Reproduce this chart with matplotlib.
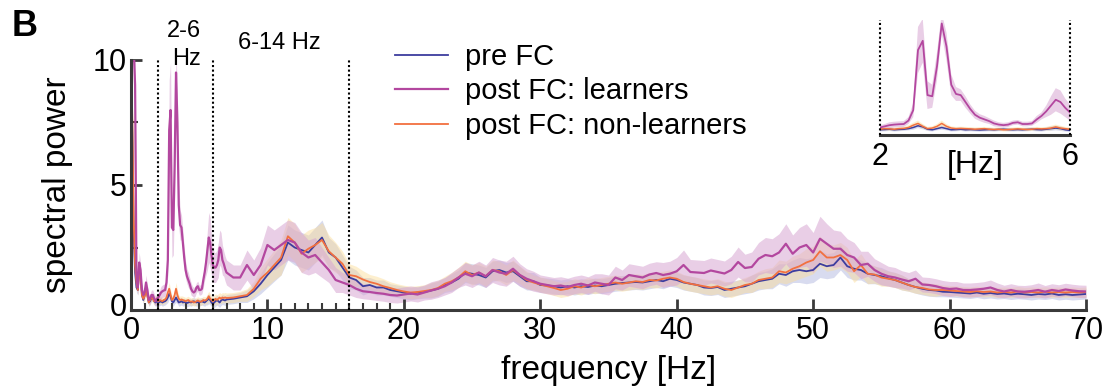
import numpy as np
import matplotlib
matplotlib.use("Agg")
import matplotlib.pyplot as plt
import matplotlib.transforms as mtransforms

plt.rcParams['font.family'] = ['Liberation Sans', 'DejaVu Sans']

# frequency bins: fine below 7 Hz, coarse above
freq_lo = np.round(np.arange(0, 7.05, 0.1), 1)
freq_hi = np.arange(7.5, 70.1, 0.5)
freq = np.concatenate([freq_lo, freq_hi])

# ---- post FC: learners
learners_lo = [
    12.0, 11.0, 10.5, 9.0, 1.4, 0.9, 1.9, 1.6, 0.8, 0.6,
    0.7, 1.1, 0.8, 0.4, 0.45, 0.6, 0.6, 0.45, 0.35, 0.45,
    0.5, 0.6, 0.7, 0.75, 0.78, 0.8, 1.1, 2.0, 7.2, 8.0,
    3.3, 3.2, 5.8, 9.5, 7.5, 4.2, 3.4, 3.3, 2.7, 2.1,
    1.6, 1.35, 1.2, 1.05, 0.85, 0.75, 0.7, 0.75, 0.9, 0.95,
    0.8, 0.8, 0.85, 1.2, 1.5, 1.9, 2.4, 2.9, 2.7, 2.2,
    1.8, 1.7, 1.7, 1.8, 2.0, 2.5, 2.4, 2.0, 1.85, 1.65,
    1.5]
learners_hi = [
    1.3, 1.3, 1.8, 1.4, 1.8, 2.6, 2.4, 2.6, 2.8, 2.7,
    2.3, 2.1, 2.2, 1.9, 1.6, 1.2, 1.1, 1.0, 0.85, 0.75,
    0.72, 0.68, 0.65, 0.6, 0.58, 0.62, 0.66, 0.62, 0.7, 0.78,
    0.85, 0.95, 1.1, 1.3, 1.45, 1.35, 1.5, 1.35, 1.6, 1.5,
    1.45, 1.65, 1.4, 1.25, 1.15, 1.05, 1.0, 0.95, 0.98, 0.92,
    1.0, 1.05, 0.98, 1.1, 1.05, 1.0, 1.3, 1.2, 1.4, 1.35,
    1.3, 1.42, 1.48, 1.4, 1.45, 1.55, 1.8, 1.52, 1.5, 1.48,
    1.58, 1.52, 1.46, 1.6, 1.92, 1.68, 1.72, 2.05, 2.2, 2.15,
    2.3, 2.65, 2.25, 2.5, 2.6, 2.3, 2.85, 2.65, 2.45, 2.45,
    2.2, 2.1, 1.8, 1.85, 1.6, 1.45, 1.35, 1.3, 1.22, 1.15,
    1.25, 1.02, 1.0, 0.95, 0.88, 0.84, 0.86, 0.8, 0.8, 0.82,
    0.85, 0.9, 0.8, 0.74, 0.8, 0.74, 0.73, 0.76, 0.8, 0.73,
    0.8, 0.76, 0.82, 0.78, 0.75, 0.74]
learners_sem_lo = [
    1.0, 1.0, 1.0, 1.0, 0.4, 0.3, 0.4, 0.3, 0.2, 0.2,
    0.2, 0.3, 0.2, 0.2, 0.2, 0.2, 0.2, 0.2, 0.2, 0.2,
    0.2, 0.2, 0.25, 0.25, 0.25, 0.25, 0.3, 0.6, 2.0, 1.9,
    1.2, 1.0, 1.2, 0.9, 1.2, 0.9, 0.6, 0.5, 0.5, 0.4,
    0.35, 0.3, 0.3, 0.25, 0.25, 0.2, 0.2, 0.2, 0.2, 0.2,
    0.2, 0.2, 0.2, 0.3, 0.3, 0.5, 0.8, 1.0, 1.0, 0.8,
    0.7, 0.6, 0.6, 0.6, 0.7, 0.7, 0.7, 0.6, 0.5, 0.5,
    0.5]
learners_sem_hi = [
    0.5, 0.5, 0.6, 0.6, 0.7, 0.8, 0.8, 0.8, 0.8, 0.8,
    0.8, 0.7, 0.7, 0.6, 0.5, 0.5, 0.4, 0.4, 0.35, 0.3,
    0.3, 0.3, 0.3, 0.3, 0.3, 0.3, 0.3, 0.3, 0.3, 0.35,
    0.35, 0.35, 0.4, 0.4, 0.45, 0.45, 0.45, 0.45, 0.5, 0.5,
    0.5, 0.5, 0.45, 0.4, 0.4, 0.35, 0.35, 0.35, 0.35, 0.35,
    0.35, 0.35, 0.35, 0.35, 0.4, 0.4, 0.45, 0.4, 0.45, 0.45,
    0.45, 0.45, 0.45, 0.5, 0.5, 0.55, 0.6, 0.5, 0.5, 0.5,
    0.5, 0.5, 0.5, 0.55, 0.6, 0.55, 0.6, 0.65, 0.7, 0.7,
    0.75, 0.8, 0.75, 0.8, 0.85, 0.8, 0.9, 0.8, 0.75, 0.7,
    0.65, 0.6, 0.55, 0.5, 0.45, 0.45, 0.4, 0.4, 0.35, 0.35,
    0.35, 0.3, 0.3, 0.3, 0.3, 0.3, 0.28, 0.28, 0.28, 0.28,
    0.28, 0.3, 0.28, 0.25, 0.25, 0.25, 0.25, 0.25, 0.28, 0.25,
    0.25, 0.25, 0.25, 0.25, 0.25, 0.25]

# ---- pre FC
pre_lo = [
    10.5, 7.0, 3.0, 1.5, 0.9, 0.8, 1.7, 1.4, 0.6, 0.4,
    0.6, 0.9, 0.6, 0.3, 0.35, 0.5, 0.5, 0.35, 0.3, 0.35,
    0.3, 0.32, 0.35, 0.3, 0.33, 0.35, 0.4, 0.5, 0.65, 0.55,
    0.35, 0.3, 0.4, 0.5, 0.4, 0.3, 0.32, 0.35, 0.3, 0.32,
    0.3, 0.28, 0.3, 0.32, 0.3, 0.33, 0.35, 0.32, 0.3, 0.32,
    0.3, 0.33, 0.35, 0.32, 0.3, 0.35, 0.4, 0.45, 0.4, 0.3,
    0.25, 0.3, 0.35, 0.4, 0.35, 0.3, 0.38, 0.42, 0.4, 0.38,
    0.42]
pre_hi = [
    0.45, 0.5, 0.55, 0.75, 1.05, 1.4, 1.7, 2.0, 2.7, 2.5,
    2.4, 2.3, 2.6, 2.9, 2.3, 2.1, 1.7, 1.3, 1.2, 0.95,
    1.0, 0.9, 0.9, 0.8, 0.75, 0.7, 0.65, 0.7, 0.72, 0.78,
    0.85, 1.0, 1.1, 1.25, 1.5, 1.45, 1.4, 1.3, 1.55, 1.6,
    1.5, 1.55, 1.35, 1.15, 1.15, 1.0, 0.98, 0.95, 0.9, 0.95,
    0.9, 0.95, 0.92, 0.98, 0.95, 1.0, 1.05, 1.08, 1.1, 1.12,
    1.1, 1.15, 1.2, 1.15, 1.25, 1.2, 1.1, 1.05, 1.0, 0.9,
    0.88, 0.92, 0.8, 0.85, 0.9, 0.95, 1.05, 1.15, 1.2, 1.25,
    1.45, 1.4, 1.55, 1.6, 1.55, 1.6, 1.85, 1.75, 1.8, 2.1,
    1.75, 1.65, 1.6, 1.45, 1.4, 1.35, 1.27, 1.2, 1.1, 1.0,
    0.92, 0.85, 0.8, 0.78, 0.73, 0.72, 0.7, 0.68, 0.66, 0.7,
    0.65, 0.68, 0.64, 0.66, 0.62, 0.65, 0.63, 0.6, 0.64, 0.62,
    0.66, 0.6, 0.63, 0.6, 0.62, 0.64]
pre_sem_lo = [
    1.0, 0.8, 0.5, 0.3, 0.2, 0.2, 0.3, 0.2, 0.15, 0.15,
    0.15, 0.15, 0.15, 0.15, 0.15, 0.15, 0.15, 0.15, 0.15, 0.15,
    0.15, 0.15, 0.15, 0.15, 0.15, 0.15, 0.15, 0.2, 0.2, 0.2,
    0.15, 0.15, 0.15, 0.2, 0.15, 0.15, 0.15, 0.15, 0.15, 0.15,
    0.15, 0.15, 0.15, 0.15, 0.15, 0.15, 0.15, 0.15, 0.15, 0.15,
    0.15, 0.15, 0.15, 0.15, 0.15, 0.15, 0.2, 0.2, 0.2, 0.15,
    0.15, 0.2, 0.2, 0.2, 0.2, 0.2, 0.2, 0.2, 0.2, 0.2,
    0.2]
pre_sem_hi = [
    0.2, 0.2, 0.25, 0.3, 0.4, 0.5, 0.55, 0.6, 0.7, 0.7,
    0.7, 0.7, 0.7, 0.7, 0.6, 0.55, 0.5, 0.45, 0.4, 0.35,
    0.3, 0.3, 0.3, 0.25, 0.25, 0.25, 0.25, 0.25, 0.25, 0.3,
    0.3, 0.3, 0.35, 0.35, 0.4, 0.4, 0.4, 0.4, 0.4, 0.4,
    0.4, 0.4, 0.4, 0.35, 0.35, 0.3, 0.3, 0.3, 0.3, 0.3,
    0.3, 0.3, 0.3, 0.3, 0.3, 0.3, 0.3, 0.3, 0.3, 0.3,
    0.3, 0.3, 0.3, 0.3, 0.3, 0.3, 0.3, 0.3, 0.3, 0.3,
    0.3, 0.3, 0.3, 0.3, 0.3, 0.3, 0.35, 0.35, 0.35, 0.4,
    0.4, 0.45, 0.45, 0.5, 0.5, 0.5, 0.55, 0.5, 0.5, 0.5,
    0.45, 0.45, 0.4, 0.4, 0.35, 0.35, 0.3, 0.3, 0.3, 0.25,
    0.25, 0.25, 0.25, 0.25, 0.2, 0.2, 0.2, 0.2, 0.2, 0.2,
    0.2, 0.2, 0.2, 0.2, 0.2, 0.2, 0.2, 0.2, 0.2, 0.2,
    0.2, 0.2, 0.2, 0.2, 0.2, 0.2]

# ---- post FC: non-learners
non_lo = [
    10.5, 7.5, 3.5, 1.8, 1.1, 0.8, 1.6, 1.3, 0.6, 0.45,
    0.55, 0.85, 0.55, 0.3, 0.4, 0.5, 0.45, 0.35, 0.4, 0.45,
    0.35, 0.4, 0.38, 0.35, 0.4, 0.42, 0.5, 0.7, 0.85, 0.6,
    0.4, 0.45, 0.6, 0.85, 0.6, 0.45, 0.4, 0.42, 0.4, 0.38,
    0.35, 0.38, 0.4, 0.35, 0.33, 0.35, 0.3, 0.32, 0.35, 0.38,
    0.35, 0.33, 0.35, 0.4, 0.38, 0.4, 0.45, 0.55, 0.45, 0.4,
    0.35, 0.4, 0.45, 0.4, 0.45, 0.5, 0.45, 0.5, 0.48, 0.5,
    0.48]
non_hi = [
    0.5, 0.55, 0.6, 0.85, 1.25, 1.5, 1.8, 2.1, 2.95, 2.7,
    2.25, 2.45, 2.6, 2.8, 2.35, 2.1, 1.85, 1.4, 1.35, 1.22,
    1.12, 1.05, 0.95, 0.88, 0.8, 0.74, 0.7, 0.72, 0.76, 0.8,
    0.88, 1.05, 1.15, 1.3, 1.55, 1.4, 1.5, 1.35, 1.6, 1.55,
    1.4, 1.6, 1.4, 1.2, 1.1, 1.02, 0.95, 0.88, 0.8, 0.85,
    0.95, 0.9, 1.0, 0.95, 1.0, 1.05, 1.1, 1.05, 1.1, 1.15,
    1.12, 1.2, 1.18, 1.25, 1.3, 1.25, 1.12, 1.05, 1.0, 0.95,
    0.9, 0.95, 0.85, 0.8, 0.9, 1.0, 1.05, 1.2, 1.25, 1.3,
    1.55, 1.5, 1.65, 1.75, 1.9, 2.0, 2.35, 2.1, 2.1, 2.2,
    2.0, 1.55, 1.8, 1.45, 1.42, 1.3, 1.25, 1.2, 1.1, 1.0,
    0.92, 0.88, 0.82, 0.8, 0.8, 0.78, 0.76, 0.74, 0.72, 0.75,
    0.72, 0.74, 0.7, 0.72, 0.7, 0.74, 0.7, 0.72, 0.7, 0.73,
    0.7, 0.72, 0.7, 0.72, 0.7, 0.72]
non_sem_lo = [
    1.0, 0.8, 0.5, 0.3, 0.2, 0.2, 0.3, 0.2, 0.15, 0.15,
    0.15, 0.15, 0.15, 0.15, 0.15, 0.15, 0.15, 0.15, 0.15, 0.15,
    0.15, 0.15, 0.15, 0.15, 0.15, 0.15, 0.2, 0.2, 0.25, 0.2,
    0.15, 0.15, 0.2, 0.25, 0.2, 0.15, 0.15, 0.15, 0.15, 0.15,
    0.15, 0.15, 0.15, 0.15, 0.15, 0.15, 0.15, 0.15, 0.15, 0.15,
    0.15, 0.15, 0.15, 0.15, 0.15, 0.15, 0.2, 0.2, 0.2, 0.15,
    0.15, 0.2, 0.2, 0.2, 0.2, 0.2, 0.2, 0.2, 0.2, 0.2,
    0.2]
non_sem_hi = [
    0.2, 0.2, 0.25, 0.3, 0.45, 0.55, 0.6, 0.7, 0.75, 0.75,
    0.75, 0.75, 0.7, 0.7, 0.65, 0.6, 0.5, 0.45, 0.4, 0.35,
    0.3, 0.3, 0.3, 0.25, 0.25, 0.25, 0.25, 0.25, 0.25, 0.3,
    0.3, 0.3, 0.35, 0.4, 0.4, 0.4, 0.4, 0.4, 0.4, 0.4,
    0.4, 0.4, 0.35, 0.35, 0.3, 0.3, 0.3, 0.3, 0.3, 0.3,
    0.3, 0.3, 0.3, 0.3, 0.3, 0.3, 0.3, 0.3, 0.3, 0.3,
    0.3, 0.3, 0.3, 0.3, 0.3, 0.3, 0.3, 0.3, 0.3, 0.3,
    0.3, 0.3, 0.3, 0.3, 0.3, 0.3, 0.35, 0.35, 0.4, 0.4,
    0.45, 0.45, 0.5, 0.5, 0.55, 0.55, 0.6, 0.55, 0.5, 0.5,
    0.5, 0.45, 0.45, 0.4, 0.35, 0.35, 0.3, 0.3, 0.3, 0.25,
    0.25, 0.25, 0.25, 0.25, 0.2, 0.2, 0.2, 0.2, 0.2, 0.2,
    0.2, 0.2, 0.2, 0.2, 0.2, 0.2, 0.2, 0.2, 0.2, 0.2,
    0.2, 0.2, 0.2, 0.2, 0.2, 0.2]

pre = np.array(pre_lo + pre_hi)
pre_sem = np.array(pre_sem_lo + pre_sem_hi)
lrn = np.array(learners_lo + learners_hi)
lrn_sem = np.array(learners_sem_lo + learners_sem_hi)
non = np.array(non_lo + non_hi)
non_sem = np.array(non_sem_lo + non_sem_hi)

c_pre = '#3d3d9e'
c_lrn = '#b3479f'
c_non = '#f2703f'
band_pre = '#aab0dc'
band_lrn = '#d7a6d2'
band_non = '#fcdc94'
spine_c = '#3a3a3a'

W, H = 1115, 390
fig = plt.figure(figsize=(W / 100, H / 100), dpi=100)

ax = fig.add_axes([131 / W, 80 / H, 955 / W, 250 / H])


def draw(a, lw_main, lw_lrn):
    a.fill_between(freq, pre - pre_sem, pre + pre_sem, color=band_pre, alpha=0.45, lw=0)
    a.fill_between(freq, non - non_sem, non + non_sem, color=band_non, alpha=0.45, lw=0)
    a.fill_between(freq, lrn - lrn_sem, lrn + lrn_sem, color=band_lrn, alpha=0.55, lw=0)
    l1, = a.plot(freq, pre, color=c_pre, lw=lw_main)
    l3, = a.plot(freq, non, color=c_non, lw=lw_main)
    l2, = a.plot(freq, lrn, color=c_lrn, lw=lw_lrn)
    return l1, l2, l3


l_pre, l_lrn, l_non = draw(ax, 1.3, 1.6)

for x in [2, 6, 16]:
    ax.axvline(x, color='k', ls=(0, (1, 1.2)), lw=1.5, zorder=5)

ax.set_xlim(0, 70)
ax.set_ylim(0, 10)
for s in ['top', 'right']:
    ax.spines[s].set_visible(False)
for s in ['left', 'bottom']:
    ax.spines[s].set_color(spine_c)
    ax.spines[s].set_linewidth(2.2)
ax.set_xticks(range(0, 71, 10))
ax.set_xticks([1, 2, 3, 4, 5, 6, 7, 8, 9, 11, 12, 13, 14, 15, 16, 17, 18, 19], minor=True)
ax.set_yticks([0, 5, 10])
ax.set_yticks([2.5, 7.5], minor=True)
ax.tick_params(which='major', direction='in', length=8, width=2, color=spine_c,
               labelsize=22, pad=4)
ax.tick_params(which='minor', direction='in', length=5, width=1.5, color=spine_c)
ax.tick_params(axis='y', pad=3)
ax.set_xlabel('frequency [Hz]', fontsize=24, labelpad=7)
ax.set_ylabel('spectral power', fontsize=24, labelpad=14)

# lift the y "0" a little so it clears the x "0"
fig.canvas.draw()
ylab0 = ax.get_yticklabels()[0]
ylab0.set_transform(ylab0.get_transform() +
                    mtransforms.ScaledTranslation(0, 6 / 100, fig.dpi_scale_trans))

ax.legend([l_pre, l_lrn, l_non], ['pre FC', 'post FC: learners', 'post FC: non-learners'],
          loc='upper left', bbox_to_anchor=(395 / W, 1 - 43 / H), bbox_transform=fig.transFigure,
          frameon=False, fontsize=21, handlelength=1.8, handletextpad=0.6,
          labelspacing=0.22, borderpad=0, borderaxespad=0)

fig.text(12 / W, 1 - 26 / H, 'B', fontsize=26, fontweight='bold', va='center', ha='left')
fig.text(184 / W, 1 - 31 / H, '2-6', fontsize=17, ha='center', va='center')
fig.text(186 / W, 1 - 59 / H, 'Hz', fontsize=17, ha='center', va='center')
fig.text(279 / W, 1 - 43 / H, '6-14 Hz', fontsize=17, ha='center', va='center')

# inset: 2-6 Hz zoom
ax2 = fig.add_axes([880 / W, (H - 135) / H, 190 / W, 115 / H])
draw(ax2, 1.1, 1.3)
ax2.set_xlim(2, 6)
ax2.set_ylim(-0.15, 9.8)
for x in [2, 6]:
    ax2.axvline(x, color='k', ls=(0, (1, 1.2)), lw=1.5, clip_on=False, zorder=5)
for s in ['top', 'right', 'left']:
    ax2.spines[s].set_visible(False)
ax2.spines['bottom'].set_color(spine_c)
ax2.spines['bottom'].set_linewidth(2.2)
ax2.set_yticks([])
ax2.set_xticks([2, 6])
ax2.tick_params(axis='x', length=0, labelsize=22, pad=5)
ax2.text(0.5, -0.26, '[Hz]', transform=ax2.transAxes, fontsize=23, ha='center', va='center')

fig.savefig('out.png', dpi=100)
